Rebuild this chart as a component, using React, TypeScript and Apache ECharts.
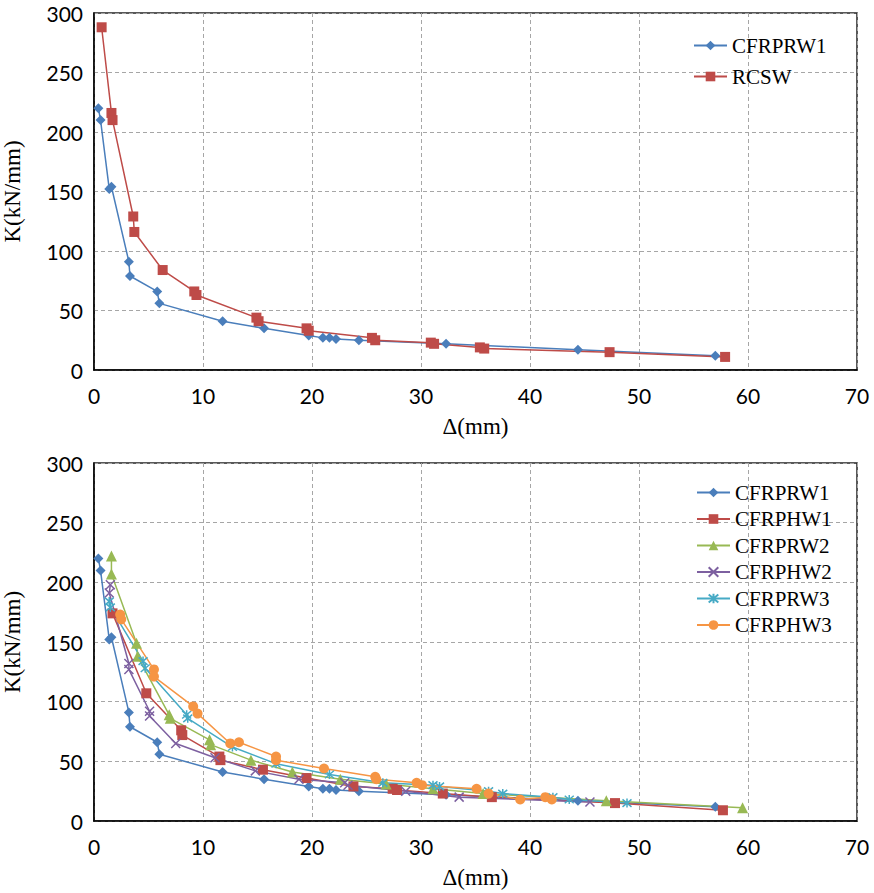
import React, { useEffect, useRef } from "react";
import * as echarts from "echarts";

// ---- data (Δ mm, K kN/mm) ----
const xAxisRange = [0, 70];
const yAxisRange = [0, 300];

const topCFRPRW1: number[][] = [
  [0.4, 220], [0.6, 210], [1.4, 152], [1.6, 154], [3.2, 91], [3.3, 79], [5.8, 66], [6.0, 56],
  [11.8, 41], [15.6, 35], [19.7, 29], [21.0, 27], [21.6, 27], [22.2, 26], [24.3, 25],
  [32.3, 22], [44.4, 17], [57.0, 12],
];
const topRCSW: number[][] = [
  [0.7, 288], [1.6, 216], [1.7, 210], [3.6, 129], [3.7, 116], [6.3, 84], [9.2, 66], [9.4, 63],
  [14.9, 44], [15.1, 41], [19.5, 35], [19.7, 33], [25.5, 27], [25.8, 25], [30.9, 23], [31.2, 22],
  [35.4, 19], [35.8, 18], [47.3, 15], [57.9, 11],
];

const botCFRPRW1: number[][] = topCFRPRW1;
const botCFRPHW1: number[][] = [
  [1.7, 174], [4.8, 107], [8.0, 76], [8.1, 72], [11.5, 54], [11.6, 51], [15.5, 43], [19.5, 36],
  [23.8, 29], [27.4, 27], [27.8, 26], [32.0, 23], [36.5, 20], [47.8, 15], [57.7, 9],
];
const botCFRPRW2: number[][] = [
  [1.6, 222], [1.6, 207], [3.9, 149], [4.0, 138], [6.9, 89], [7.0, 86], [10.6, 68], [10.7, 64],
  [14.4, 51], [18.2, 41], [22.6, 35], [26.8, 31], [31.1, 27], [35.7, 23], [47.0, 17], [59.5, 11],
];
const botCFRPHW2: number[][] = [
  [1.5, 198], [1.4, 191], [3.2, 132], [3.2, 127], [5.1, 92], [5.1, 88], [7.5, 65], [11.1, 53],
  [14.8, 42], [18.8, 35], [23.0, 32], [23.3, 30], [28.6, 25], [33.5, 20], [45.5, 16],
];
const botCFRPRW3: number[][] = [
  [1.4, 184], [1.5, 179], [4.5, 134], [4.7, 128], [8.5, 89], [8.6, 86], [12.7, 62], [16.7, 48],
  [21.6, 39], [26.5, 32], [31.1, 30], [31.7, 29], [36.2, 25], [37.5, 23], [42.1, 20], [43.6, 18],
  [48.9, 15],
];
const botCFRPHW3: number[][] = [
  [2.4, 173], [2.5, 169], [5.5, 127], [5.5, 121], [9.1, 96], [9.5, 90], [12.5, 65], [13.3, 66],
  [16.7, 54], [16.7, 51], [21.1, 44], [25.8, 37], [25.9, 35], [29.6, 32], [30.1, 30], [35.1, 27],
  [36.2, 23], [39.1, 18], [41.4, 20], [42.0, 18],
];

const topLegend = ["CFRPRW1", "RCSW"];
const botLegend = ["CFRPRW1", "CFRPHW1", "CFRPRW2", "CFRPHW2", "CFRPRW3", "CFRPHW3"];

// ---- styles ----
const BLUE = "#4A7EBB";
const RED = "#BE4B48";
const GREEN = "#98B954";
const PURPLE = "#7D60A0";
const CYAN = "#46AAC5";
const ORANGE = "#F69544";

const X_SYMBOL = "path://M0,0L10,10M0,10L10,0";
const STAR_SYMBOL = "path://M0,0L10,10M0,10L10,0M5,-1L5,11";

function lineSeries(name: string, data: number[][], color: string, symbol: string, size: number, idx: number, stroked = false) {
  return {
    type: "line",
    name,
    data,
    xAxisIndex: idx,
    yAxisIndex: idx,
    symbol,
    symbolSize: size,
    showAllSymbol: true,
    lineStyle: { color, width: 1.5 },
    itemStyle: stroked
      ? { color: "rgba(0,0,0,0)", borderColor: color, borderWidth: 1.5 }
      : { color, borderColor: color, borderWidth: 0 },
    z: 3,
  };
}

function makeX(idx: number) {
  return {
    type: "value",
    gridIndex: idx,
    min: xAxisRange[0],
    max: xAxisRange[1],
    interval: 10,
    name: "Δ(mm)",
    nameLocation: "middle",
    nameGap: 45,
    nameTextStyle: { fontFamily: "Liberation Serif", fontSize: 23, color: "#000" },
    axisLine: { show: true, lineStyle: { color: "#000", width: 1.5 } },
    axisTick: { show: false },
    axisLabel: { fontFamily: "Lato", fontSize: 21, color: "#000", margin: 15 },
    splitLine: { show: true, lineStyle: { color: "#a6a6a6", type: [4, 3], width: 1 } },
  };
}

function makeY(idx: number) {
  return {
    type: "value",
    gridIndex: idx,
    min: yAxisRange[0],
    max: yAxisRange[1],
    interval: 50,
    name: "K(kN/mm)",
    nameLocation: "middle",
    nameGap: 70,
    nameTextStyle: { fontFamily: "Liberation Serif", fontSize: 23, color: "#000" },
    axisLine: { show: true, lineStyle: { color: "#000", width: 1.5 } },
    axisTick: { show: false },
    axisLabel: { fontFamily: "Lato", fontSize: 21, color: "#000", margin: 11 },
    splitLine: { show: true, lineStyle: { color: "#a6a6a6", type: [4, 3], width: 1 } },
  };
}

export default function App() {
  const ref = useRef<HTMLDivElement>(null);
  useEffect(() => {
    if (!ref.current) return;
    const chart = echarts.init(ref.current, undefined, { renderer: "svg" });
    chart.setOption({
      animation: false,
      backgroundColor: "#fff",
      grid: [
        { left: 94, top: 13, width: 763, height: 357, show: true, borderColor: "#222", borderWidth: 1.5, backgroundColor: "transparent", containLabel: false, outerBoundsMode: "none" },
        { left: 94, top: 463, width: 763, height: 358, show: true, borderColor: "#222", borderWidth: 1.5, backgroundColor: "transparent", containLabel: false, outerBoundsMode: "none" },
      ],
      xAxis: [makeX(0), makeX(1)],
      yAxis: [makeY(0), makeY(1)],
      legend: [
        {
          data: topLegend,
          orient: "vertical",
          left: 688,
          top: 30,
          itemGap: 10,
          itemWidth: 33,
          itemHeight: 12,
          textStyle: { fontFamily: "Liberation Serif", fontSize: 21, color: "#000" },
          selectedMode: false,
        },
        {
          data: botLegend,
          orient: "vertical",
          left: 691,
          top: 477,
          itemGap: 5.5,
          itemWidth: 33,
          itemHeight: 12,
          textStyle: { fontFamily: "Liberation Serif", fontSize: 21, color: "#000" },
          selectedMode: false,
        },
      ],
      series: [
        lineSeries("CFRPRW1", topCFRPRW1, BLUE, "diamond", 10, 0),
        lineSeries("RCSW", topRCSW, RED, "rect", 10, 0),
        lineSeries("CFRPRW1", botCFRPRW1, BLUE, "diamond", 10, 1),
        lineSeries("CFRPHW1", botCFRPHW1, RED, "rect", 10, 1),
        lineSeries("CFRPRW2", botCFRPRW2, GREEN, "triangle", 11, 1),
        lineSeries("CFRPHW2", botCFRPHW2, PURPLE, X_SYMBOL, 9, 1, true),
        lineSeries("CFRPRW3", botCFRPRW3, CYAN, STAR_SYMBOL, 9, 1, true),
        lineSeries("CFRPHW3", botCFRPHW3, ORANGE, "circle", 10, 1),
      ],
    });
    return () => chart.dispose();
  }, []);
  return (
    <div
      ref={ref}
      style={{ position: "absolute", left: 0, top: 0, width: 874, height: 893, background: "#fff" }}
    />
  );
}
